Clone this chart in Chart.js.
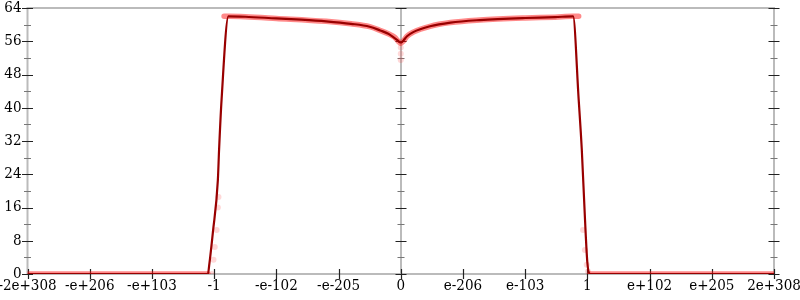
<!DOCTYPE html>
<html>
<head>
<meta charset="utf-8">
<script src="https://cdn.jsdelivr.net/npm/chart.js@4/dist/chart.umd.min.js"></script>
<style>
  html, body { margin: 0; padding: 0; background: #fff; }
</style>
</head>
<body>
<canvas id="myChart" width="800" height="300"></canvas>
<script>
// x scale runs -6 .. 6, one label per unit
const xTickLabels = ["-2e+308", "-e+206", "-e+103", "-1", "-e-102", "-e-205", "0",
  "e-206", "e-103", "1", "e+102", "e+205", "2e+308"];
const yMax = 64;
const yStep = 8;

// dark curve
const lineX = [-6, -3.1, -3.08, -3.02, -2.94, -2.92, -2.88, -2.77, -2.5, -2.0, -1.6, -1.2, -0.8, -0.5,
  -0.33, -0.2, -0.12, -0.05, -0.02, 0, 0.02, 0.05, 0.1, 0.2, 0.47, 0.8, 1.27, 2.0, 2.48, 2.77,
  2.86, 2.91, 2.96, 3.0, 3.04, 6];
const lineY = [0, 0, 2, 10, 22.6, 30, 42, 62, 61.9, 61.5, 61.2, 60.8, 60.2, 59.5,
  58.6, 57.8, 57, 56.2, 55.8, 55.7, 55.8, 56.3, 57.2, 58.2, 59.6, 60.5, 61.1, 61.6, 61.8, 62,
  42, 30, 13.7, 2.7, 0, 0];

// faint red band behind the curve (null = gap)
const haloX = [-6, -3.1, null, -2.84, -2.77, -2.5, -2.0, -1.2, -0.8, -0.5, -0.33, -0.2, -0.1, -0.04,
  0, 0.04, 0.1, 0.2, 0.47, 0.8, 1.27, 2.0, 2.48, 2.77, 2.86, null, 3.04, 6];
const haloY = [0, 0, null, 62, 62, 61.9, 61.5, 60.8, 60.2, 59.5, 58.6, 57.8, 57, 56,
  55.5, 56, 57.2, 58.2, 59.6, 60.5, 61.1, 61.6, 61.8, 62, 62, null, 0, 0];

// stray pale dots near the steep edges and the dip at 0
const dotX = [-3.04, -3.01, -2.99, -2.96, -2.94, -2.93, 0, 0, 0, 2.93, 2.96, 2.99, 3.01];
const dotY = [0, 3.4, 6.5, 10.6, 16, 18.5, 51.5, 53, 54.5, 10.6, 5.8, 2.2, 0.6];

const toPoints = (xs, ys) => xs.map((x, i) => (x === null ? { x: NaN, y: null } : { x: x, y: ys[i] }));

// axis frame + cross ticks, drawn under the data
const frame = {
  id: "frame",
  beforeDatasetsDraw(chart) {
    const { ctx, chartArea: a, scales: { x, y } } = chart;
    const cx = Math.round(x.getPixelForValue(0));
    ctx.save();
    ctx.strokeStyle = "#bbbbbb";
    ctx.lineWidth = 2;
    ctx.strokeRect(a.left, a.top, a.right - a.left, a.bottom - a.top);
    ctx.beginPath();
    ctx.moveTo(cx, a.top);
    ctx.lineTo(cx, a.bottom);
    ctx.stroke();

    ctx.lineWidth = 1.2;
    for (let v = 0; v <= yMax; v += yStep / 2) {
      const py = Math.round(y.getPixelForValue(v)) + 0.5;
      const major = v % yStep === 0;
      const h = major ? 5.5 : 3.5;
      ctx.strokeStyle = major ? "#222" : "#777";
      ctx.beginPath();
      [a.left, cx, a.right].forEach(px => {
        ctx.moveTo(px - h, py);
        ctx.lineTo(px + h, py);
      });
      ctx.stroke();
    }
    ctx.strokeStyle = "#222";
    ctx.beginPath();
    for (let v = -6; v <= 6; v++) {
      const px = Math.round(x.getPixelForValue(v)) + 0.5;
      ctx.moveTo(px, a.bottom - 5);
      ctx.lineTo(px, a.bottom + 5);
    }
    ctx.stroke();
    ctx.restore();
  }
};

Chart.defaults.font.family = "'DejaVu Serif Condensed', 'DejaVu Serif', serif";
Chart.defaults.font.size = 15;
Chart.defaults.color = "#000";

const ctx = document.getElementById("myChart").getContext("2d");
const chart = new Chart(ctx, {
  type: "line",
  data: {
    datasets: [
      {
        data: toPoints(lineX, lineY),
        borderColor: "#990000",
        borderWidth: 2.2,
        pointRadius: 0,
        cubicInterpolationMode: "monotone",
        spanGaps: false,
        order: 0
      },
      {
        data: toPoints(haloX, haloY),
        borderColor: "rgba(255, 20, 20, 0.5)",
        borderWidth: 5.5,
        borderCapStyle: "round",
        borderJoinStyle: "round",
        pointRadius: 0,
        cubicInterpolationMode: "monotone",
        spanGaps: false,
        order: 1
      },
      {
        type: "scatter",
        data: toPoints(dotX, dotY),
        backgroundColor: "rgba(255, 40, 40, 0.18)",
        borderWidth: 0,
        pointRadius: 3,
        order: 2
      }
    ]
  },
  options: {
    responsive: false,
    animation: false,
    layout: { padding: { top: 8, right: 26, left: 0, bottom: 0 } },
    plugins: { legend: { display: false }, tooltip: { enabled: false } },
    scales: {
      x: {
        type: "linear",
        min: -6,
        max: 6,
        grid: { display: false, drawTicks: false },
        border: { display: false },
        ticks: {
          stepSize: 1,
          autoSkip: false,
          maxRotation: 0,
          padding: 3,
          callback: v => xTickLabels[v + 6]
        },
        afterFit: s => { s.height = 26; s.paddingLeft = 0; s.paddingRight = 0; }
      },
      y: {
        min: 0,
        max: yMax,
        grid: { display: false, drawTicks: false },
        border: { display: false },
        ticks: { stepSize: yStep, padding: 6 },
        afterFit: s => { s.width = 27.5; s.paddingTop = 0; s.paddingBottom = 0; }
      }
    }
  },
  plugins: [frame]
});
</script>
</body>
</html>
